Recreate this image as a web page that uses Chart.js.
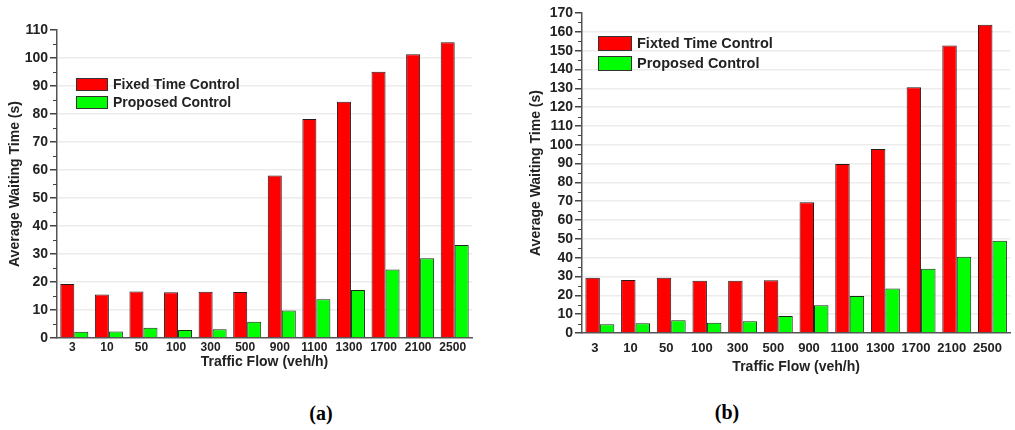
<!DOCTYPE html>
<html>
<head>
<meta charset="utf-8">
<script src="https://cdn.jsdelivr.net/npm/chart.js@4.4.1/dist/chart.umd.min.js"></script>
<style>
  body { margin: 0; background: #fff; width: 1015px; height: 430px; position: relative; overflow: hidden; font-family: "Liberation Sans", Arial, sans-serif; }
  canvas { position: absolute; top: 0; }
  #chartA { left: 0; }
  #chartB { left: 510px; }
  .legend { position: absolute; font-weight: bold; font-size: 14px; color: #222; }
  .legend .row { display: flex; align-items: center; }
  .legend .box { display: inline-block; border: 1px solid #333; box-sizing: border-box; margin-right: 5px; }
  .caption { position: absolute; font-family: "Liberation Serif", "Times New Roman", serif; font-weight: bold; font-size: 20px; color: #000; transform: translateX(-50%); }
</style>
</head>
<body>
<canvas id="chartA" width="480" height="371"></canvas>
<canvas id="chartB" width="505" height="376"></canvas>
<div class="legend" id="legendA" style="left:76px; top:75px;"></div>
<div class="legend" id="legendB" style="left:598px; top:33px; font-size:14.5px;"></div>
<div class="caption" style="left:321px; top:402px;">(a)</div>
<div class="caption" style="left:727px; top:401px;">(b)</div>
<script>
// 交通量カテゴリ
const flowLabels = ['3', '10', '50', '100', '300', '500', '900', '1100', '1300', '1700', '2100', '2500'];

// (a) の値
const fixedA = [19.3, 15.5, 16.6, 16.3, 16.5, 16.4, 58.0, 78.2, 84.4, 95.1, 101.3, 105.6];
const proposedA = [2.2, 2.3, 3.7, 2.9, 3.1, 5.8, 9.8, 13.8, 17.1, 24.5, 28.5, 33.2];
const legendA = ['Fixed Time Control', 'Proposed Control'];
const yMaxA = 110;

// (b) の値
const fixedB = [29.3, 28.2, 29.3, 27.7, 27.7, 28.0, 69.4, 89.8, 97.8, 130.6, 152.7, 163.8];
const proposedB = [4.6, 5.2, 6.8, 5.5, 6.2, 9.0, 14.7, 19.7, 23.6, 34.1, 40.5, 49.0];
const legendB = ['Fixted Time Control', 'Proposed Control'];
const yMaxB = 170;

const yTitle = 'Average Waiting Time (s)';
const xTitle = 'Traffic Flow (veh/h)';
const barColors = ['#ff0000', '#00ff00'];

// 小目盛りを描くプラグイン
const minorTicks = {
    id: 'minorTicks',
    afterDraw(chart) {
        const y = chart.scales.y;
        const ctx = chart.ctx;
        ctx.save();
        ctx.strokeStyle = '#444';
        ctx.lineWidth = 1;
        for (let v = 5; v < y.max; v += 10) {
            const py = Math.round(y.getPixelForValue(v)) + 0.5;
            ctx.beginPath();
            ctx.moveTo(y.right - 4, py);
            ctx.lineTo(y.right, py);
            ctx.stroke();
        }
        ctx.restore();
    }
};

function makeChart(id, fixed, proposed, labels, yMax, opt) {
    const ctx = document.getElementById(id).getContext('2d');
    return new Chart(ctx, {
        type: 'bar',
        data: {
            labels: flowLabels,
            datasets: [
                { label: labels[0], data: fixed, backgroundColor: barColors[0], borderColor: '#2a1a1a', borderWidth: 1 },
                { label: labels[1], data: proposed, backgroundColor: barColors[1], borderColor: '#1a2a1a', borderWidth: 1 }
            ]
        },
        options: {
            responsive: false,
            animation: false,
            layout: { padding: opt.padding },
            datasets: { bar: { barPercentage: 1.0, categoryPercentage: 0.81 } },
            plugins: { legend: { display: false }, tooltip: { enabled: false } },
            scales: {
                x: {
                    afterFit: s => { s.height = opt.xHeight; },
                    grid: { display: false, drawTicks: false },
                    border: { color: '#555', width: 1.5 },
                    ticks: {
                        color: '#222',
                        padding: opt.xPad,
                        labelOffset: opt.labelOffset,
                        maxRotation: 0,
                        autoSkip: false,
                        font: { family: 'Liberation Sans', weight: 'bold', size: opt.xFont }
                    },
                    title: {
                        display: true,
                        text: xTitle,
                        color: '#222',
                        padding: 0,
                        font: { family: 'Liberation Sans', weight: 'bold', size: 14 }
                    }
                },
                y: {
                    min: 0,
                    max: yMax,
                    afterFit: s => { s.width = opt.yWidth; },
                    grid: {
                        color: c => (c.tick && (c.tick.value === 0 || c.tick.value === yMax)) ? 'rgba(0,0,0,0)' : '#ececec',
                        tickColor: '#444',
                        tickLength: 7,
                        lineWidth: 1.5
                    },
                    border: { color: '#555', width: 1.5 },
                    ticks: {
                        stepSize: 10,
                        autoSkip: false,
                        color: '#222',
                        padding: 2,
                        font: { family: 'Liberation Sans', weight: 'bold', size: opt.yFont }
                    },
                    title: {
                        display: true,
                        text: yTitle,
                        color: '#222',
                        padding: 0,
                        font: { family: 'Liberation Sans', weight: 'bold', size: 14 }
                    }
                }
            }
        },
        plugins: [minorTicks]
    });
}

makeChart('chartA', fixedA, proposedA, legendA, yMaxA, {
    padding: { left: 7, top: 30, right: 8, bottom: 0 },
    yWidth: 50, xHeight: 33, labelOffset: -2, xFont: 12, yFont: 14, xPad: 2
});
makeChart('chartB', fixedB, proposedB, legendB, yMaxB, {
    padding: { left: 18, top: 13, right: 2, bottom: 0 },
    yWidth: 54, xHeight: 43, labelOffset: -5, xFont: 13, yFont: 14, xPad: 8
});

// 凡例 (HTML)
function buildLegend(id, labels, boxW, boxH, gap) {
    const el = document.getElementById(id);
    labels.forEach((text, i) => {
        const row = document.createElement('div');
        row.className = 'row';
        row.style.height = gap + 'px';
        row.innerHTML = `<span class="box" style="width:${boxW}px;height:${boxH}px;background:${barColors[i]}"></span><span>${text}</span>`;
        el.appendChild(row);
    });
}
buildLegend('legendA', legendA, 32, 13, 18);
buildLegend('legendB', legendB, 34, 15, 20);
</script>
</body>
</html>
